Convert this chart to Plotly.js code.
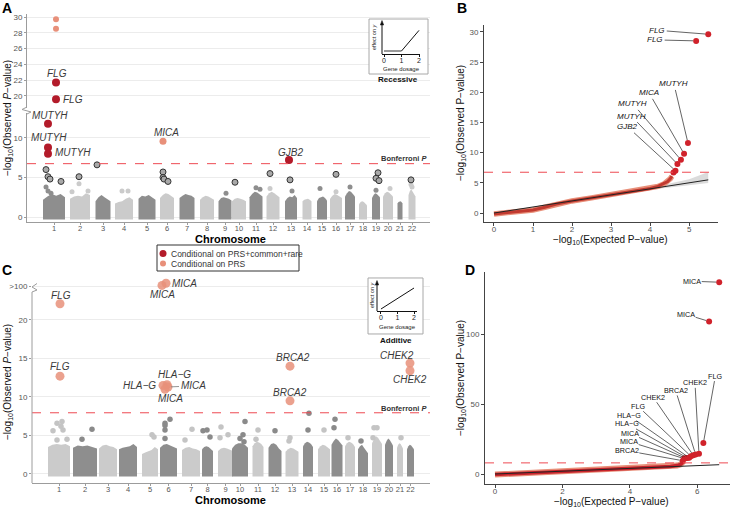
<!DOCTYPE html>
<html>
<head>
<meta charset="utf-8">
<script src="https://cdn.plot.ly/plotly-3.0.1.min.js"></script>
<style>
html,body{margin:0;padding:0;background:#ffffff;}
#chart{width:731px;height:508px;}
</style>
</head>
<body>
<div id="chart"></div>
<script>
// ======================= DATA =======================
const chromLabels = ["1","2","3","4","5","6","7","8","9","10","11","12","13","14","15","16","17","18","19","20","21","22"];

// ---- Panel A (recessive): cumulative chromosome position (plot units) ----
const chromMidA  = [54, 80, 103, 124, 147, 167, 187, 207, 225, 239, 256, 273, 291, 307, 322, 336, 350, 363, 376, 388, 400, 412];
const chromSpanA = [22, 20, 15, 18, 17, 14, 15, 14, 13, 14, 13, 13, 12, 9, 10, 12, 10, 8, 8, 10, 5, 7];
// upper envelope of the dense cloud of genes per chromosome (-log10 P)
const bulkTopA = [
  [2.2,2.6,2.9,2.7,2.9,2.5],[2.3,2.6,2.7,2.6,3.0,2.8],[2.0,2.5,2.8,2.5,2.3,2.0],[1.7,1.9,2.0,2.3,2.5,2.2],
  [2.3,2.7,2.6,2.8,2.5,2.2],[2.4,2.8,3.0,2.9,2.6,2.4],[2.4,2.7,2.9,2.8,2.7,2.4],[2.2,2.5,2.7,2.6,2.4,2.2],
  [2.0,2.4,2.5,2.4,2.3,2.1],[2.0,2.3,2.4,2.3,2.2,2.0],[2.5,2.9,3.2,3.1,2.9,2.6],[2.6,3.0,3.2,3.0,2.8,2.5],
  [2.0,2.4,2.6,2.5,2.8,2.4],[2.0,2.2,2.3,2.3,2.2,2.0],[2.0,2.4,2.5,2.6,2.4,2.1],[2.3,2.7,2.9,2.8,2.6,2.4],
  [2.6,3.0,3.3,3.2,2.9,2.6],[1.6,1.9,2.0,1.9,1.7,1.5],[2.4,2.8,3.0,2.9,2.7,2.5],[2.6,3.0,3.2,3.1,2.9,2.6],
  [1.7,1.9,2.0,2.0,1.9,1.7],[2.8,3.3,3.5,3.2,2.9,2.6]
];
const minorA_chr = [1,1,1,2,2,2,4,4,9,11,11,12,13,15,16,17,19,20,22,22];
const minorA_pos = [46,48,51,79,72,88,122,128,226,256,260,270,292,320,336,350,376,390,411,412];
const minorA_p   = [3.8,3.3,3.0,4.2,3.2,3.3,3.3,3.3,3.0,3.7,3.5,3.6,3.3,3.6,3.2,3.8,3.4,3.6,4.1,3.8];
const hitA_pos = [46,48,50,61,79,97,163,163,164,168,235,270,290,336,378,376,379,411];
const hitA_p   = [6.0,5.1,4.8,4.5,5.1,6.6,5.7,5.0,4.8,4.5,4.4,5.5,4.7,5.4,5.6,4.9,4.6,4.7];
const fullA_gene = ["FLG","FLG","MUTYH","MUTYH","MUTYH","GJB2"];
const fullA_pos  = [56,56,48,48,48,289];
const fullA_p    = [21.7,19.6,11.8,8.8,8.0,7.2];
const prsA_gene = ["","","MICA"];
const prsA_pos  = [56,56,163];
const prsA_p    = [29.7,28.5,9.6];
const bonfA = 6.75;

// ---- Panel B (QQ recessive) ----
const qqB_exp = [0,0.3,0.6,1.0,1.3,1.6,2.0,2.5,3.0,3.5,4.0,4.2,4.35,4.45,4.52,4.56];
const qqB_obs = [-0.15,0.05,0.25,0.5,0.95,1.5,2.0,2.5,3.0,3.5,4.05,4.4,4.8,5.2,5.7,6.1];
const qqB_topExp  = [4.60,4.65,4.70,4.79,4.87,4.97,5.18,5.49];
const qqB_topObs  = [6.7,7.0,8.1,8.8,9.8,11.6,28.5,29.6];
const qqB_topGene = ["","GJB2","MUTYH","MUTYH","MICA","MUTYH","FLG","FLG"];
const nullB = [0,5.49];
const ciB_exp = [0,1,2,3,4,4.5,5,5.49];
const ciB_lo  = [0,1,2,3,3.85,4.25,4.65,4.97];
const ciB_hi  = [0,1,2,3,4.2,4.85,5.6,6.8];

// ---- Panel C (additive) ----
const chromMidC  = [59, 85, 108, 128, 150, 168.5, 191, 207.5, 225.5, 240, 258, 275, 292, 308, 324, 337, 350, 363, 377, 389, 400, 410.5];
const chromSpanC = [22, 24, 18, 18, 16, 17, 18, 11, 15, 16, 11, 13, 13, 10, 12, 11, 10, 10, 10, 8, 6, 7];
const bulkTopC = [
  [3.5,3.8,3.9,3.8,3.9,3.6],[3.4,3.7,3.6,3.7,3.5,3.3],[3.3,3.7,3.8,3.6,3.5,3.2],[3.2,3.4,3.5,3.6,3.9,3.5],
  [2.6,2.8,2.9,3.1,3.5,3.2],[3.4,3.8,3.9,3.7,3.5,3.3],[3.1,3.4,3.5,3.3,3.2,3.0],[3.2,3.5,3.6,3.5,3.3,3.0],
  [3.0,3.3,3.4,3.3,3.2,3.0],[3.3,3.8,4.0,4.0,3.8,3.4],[3.6,4.0,4.2,4.1,3.9,3.5],[3.4,3.9,4.0,3.8,3.3,3.0],
  [2.9,3.2,3.4,3.3,3.1,2.9],[3.6,4.0,4.2,4.1,3.9,3.5],[3.2,3.6,3.8,3.7,3.5,3.2],[3.8,4.3,4.6,4.4,4.1,3.7],
  [3.6,4.0,4.2,4.1,3.9,3.5],[3.2,3.6,3.8,3.4,3.0,2.7],[4.0,4.5,4.9,4.7,4.3,3.9],[3.8,4.3,4.6,4.4,4.1,3.7],
  [3.4,3.8,4.0,3.9,3.6,3.3],[3.2,3.6,3.8,3.7,3.5,3.2]
];
const minorC_chr = [1,1,1,1,1,1,1,2,2,5,5,6,6,6,6,6,7,7,8,8,8,9,9,9,10,10,10,10,11,11,12,13,13,14,14,15,16,16,17,18,19,19,19,21];
const minorC_pos = [53,57,62,63,61,57,67,92,82,152,154,165,165,165,170,165,192,185,203,207,210,221,228,220,245,243,240,244,258,256,275,290,289,309,308,324,335,334,348,361,374,377,373,401];
const minorC_p   = [5.6,6.6,6.8,5.7,6.2,4.4,4.5,5.8,4.5,5.1,4.8,6.6,6.3,5.7,7.1,4.6,5.8,4.4,5.6,5.7,4.8,6.1,5.1,4.7,6.8,5.1,4.6,4.2,5.7,4.5,5.6,4.7,4.3,7.9,5.7,5.7,7.1,6.0,4.7,4.3,6.0,6.0,4.7,4.7];
const prsC_gene = ["MICA","MICA","FLG","CHEK2","BRCA2","CHEK2","FLG","HLA\u2212G","HLA\u2212G","MICA","MICA","BRCA2"];
const prsC_pos  = [166,162,60,410,290,410,60,167,163,168,165,290];
const prsC_p    = [137,109,22.1,14.4,14.0,13.4,12.7,11.6,11.5,11.3,11.0,9.5];
const capC = 100;
const bonfC = 7.95;

// ---- Panel D (QQ additive) ----
const qqD_exp = [0,0.5,1,1.5,2,3,4,4.5,5.0,5.2,5.4,5.5,5.56,5.6];
const qqD_obs = [-0.4,0.1,0.7,1.2,1.8,2.9,3.9,4.4,5.0,5.4,6.0,6.8,8.0,9.3];
const qqD_topExp = [6.65,6.35,6.18,6.05,5.95,5.88,5.81,5.76,5.70,5.65,5.61,5.57];
const nullD = [0,6.65];

// ---- Insets ----
const dosage = [0,1,2];
const effectRecessive = [0,0,1];
const dosageAdd = [0,2];
const effectAdditive = [0,1];

// ======================= STYLE / GEOMETRY =======================
const W = 731, H = 508;
const PX = x => x / W, PY = y => 1 - y / H;
const FONT = 'Liberation Sans, Arial, Helvetica, sans-serif';
const DARKRED = '#B31B2A', SALMON = '#E8907A', QQRED = '#D0222B';
const GDARK = '#8E8E8E', GLIGHT = '#CBCBCB';
const AXA = '#9c9c9c', AXB = '#444444', TICKC = '#555555';
const BONF = '#EE4A52';

function band(mid, span, tops, base) {
  const x0 = mid - span / 2, n = tops.length;
  const xs = [x0], ys = [base];
  tops.forEach((t, k) => { xs.push(x0 + span * k / (n - 1)); ys.push(t); });
  xs.push(x0 + span); ys.push(base);
  return {x: xs, y: ys};
}
const traces = [];

// ---------- Panel A ----------
chromMidA.forEach((m, i) => {
  const b = band(m, chromSpanA[i], bulkTopA[i], -0.32);
  traces.push({type:'scatter', mode:'lines', x:b.x, y:b.y, xaxis:'x', yaxis:'y', fill:'toself',
    fillcolor: i % 2 === 0 ? GDARK : GLIGHT, line:{width:0, color:i % 2 === 0 ? GDARK : GLIGHT}, hoverinfo:'skip'});
});
traces.push({type:'scatter', mode:'markers', x:minorA_pos, y:minorA_p, xaxis:'x', yaxis:'y',
  marker:{size:5, color:minorA_chr.map(c => c % 2 === 1 ? GDARK : GLIGHT)}, hoverinfo:'skip'});
traces.push({type:'scatter', mode:'markers', x:hitA_pos, y:hitA_p, xaxis:'x', yaxis:'y',
  marker:{size:6, color:'#a9a9a9', line:{color:'#333', width:1}}, hoverinfo:'skip'});
function splitAxis(pos, p) {
  const lo = {x:[], y:[]}, hi = {x:[], y:[]};
  p.forEach((v, i) => { const t = v > 15 ? hi : lo; t.x.push(pos[i]); t.y.push(v); });
  return {lo, hi};
}
const sPrsA = splitAxis(prsA_pos, prsA_p), sFullA = splitAxis(fullA_pos, fullA_p);
traces.push({type:'scatter', mode:'markers', x:sPrsA.hi.x, y:sPrsA.hi.y, xaxis:'x', yaxis:'y2', marker:{size:6, color:SALMON}});
traces.push({type:'scatter', mode:'markers', x:sPrsA.lo.x, y:sPrsA.lo.y, xaxis:'x', yaxis:'y', marker:{size:7, color:SALMON}});
traces.push({type:'scatter', mode:'markers', x:sFullA.hi.x, y:sFullA.hi.y, xaxis:'x', yaxis:'y2', marker:{size:8, color:DARKRED}});
traces.push({type:'scatter', mode:'markers', x:sFullA.lo.x, y:sFullA.lo.y, xaxis:'x', yaxis:'y', marker:{size:8, color:DARKRED}});

// ---------- Panel B ----------
traces.push({type:'scatter', mode:'lines', x:ciB_exp, y:ciB_lo, xaxis:'x3', yaxis:'y3', line:{width:0, color:'#ccc'}, hoverinfo:'skip'});
traces.push({type:'scatter', mode:'lines', x:ciB_exp, y:ciB_hi, xaxis:'x3', yaxis:'y3', fill:'tonexty', fillcolor:'rgba(190,190,190,0.55)', line:{width:0, color:'#ccc'}, hoverinfo:'skip'});
traces.push({type:'scatter', mode:'lines', x:qqB_exp, y:qqB_obs, xaxis:'x3', yaxis:'y3', line:{width:5.5, color:SALMON}});
traces.push({type:'scatter', mode:'lines', x:qqB_exp, y:qqB_obs, xaxis:'x3', yaxis:'y3', line:{width:3, color:'#C23A30'}});
traces.push({type:'scatter', mode:'lines', x:nullB, y:nullB, xaxis:'x3', yaxis:'y3', line:{width:1, color:'#222'}});
traces.push({type:'scatter', mode:'markers', x:qqB_topExp, y:qqB_topObs, xaxis:'x3', yaxis:'y3', marker:{size:6, color:QQRED}});

// ---------- Panel C ----------
const capShow = v => v > capC ? 24.4 + (v - capC) / 100 : v;
chromMidC.forEach((m, i) => {
  const b = band(m, chromSpanC[i], bulkTopC[i], -0.33);
  traces.push({type:'scatter', mode:'lines', x:b.x, y:b.y, xaxis:'x4', yaxis:'y4', fill:'toself',
    fillcolor: i % 2 === 0 ? GLIGHT : GDARK, line:{width:0, color:i % 2 === 0 ? GLIGHT : GDARK}, hoverinfo:'skip'});
});
traces.push({type:'scatter', mode:'markers', x:minorC_pos, y:minorC_p, xaxis:'x4', yaxis:'y4',
  marker:{size:5.5, color:minorC_chr.map(c => c % 2 === 1 ? '#c4c4c4' : '#8a8a8a')}, hoverinfo:'skip'});
traces.push({type:'scatter', mode:'markers', x:prsC_pos, y:prsC_p.map(capShow), xaxis:'x4', yaxis:'y4',
  marker:{size:9, color:SALMON, opacity:0.85}});

// ---------- Panel D ----------
traces.push({type:'scatter', mode:'lines', x:qqD_exp, y:qqD_obs, xaxis:'x5', yaxis:'y5', line:{width:6, color:SALMON}});
traces.push({type:'scatter', mode:'lines', x:qqD_exp, y:qqD_obs, xaxis:'x5', yaxis:'y5', line:{width:3.5, color:'#C8232C'}});
traces.push({type:'scatter', mode:'lines', x:nullD, y:nullD, xaxis:'x5', yaxis:'y5', line:{width:1, color:'#222'}});
traces.push({type:'scatter', mode:'markers', x:qqD_topExp, y:prsC_p, xaxis:'x5', yaxis:'y5', marker:{size:6, color:QQRED}});

// ---------- Insets ----------
traces.push({type:'scatter', mode:'lines', x:dosage.slice(0,2), y:effectRecessive.slice(0,2), xaxis:'x6', yaxis:'y6', line:{width:2, color:'#999'}});
traces.push({type:'scatter', mode:'lines', x:dosage.slice(1), y:effectRecessive.slice(1), xaxis:'x6', yaxis:'y6', line:{width:1, color:'#111'}});
traces.push({type:'scatter', mode:'lines', x:dosageAdd, y:effectAdditive, xaxis:'x7', yaxis:'y7', line:{width:1, color:'#111'}});

// ======================= AXES =======================
const baseTick = {tickfont:{family:FONT, size:8, color:TICKC}, zeroline:false, fixedrange:true, tickangle:0};
function axA(extra) { return Object.assign({}, baseTick, {showline:true, linecolor:AXA, linewidth:1, ticks:'outside', ticklen:2, tickcolor:AXA, showgrid:false}, extra); }
function axB(extra) { return Object.assign({}, baseTick, {showline:true, linecolor:AXB, linewidth:1, ticks:'outside', ticklen:3, tickcolor:AXB, showgrid:false}, extra); }
function axIn(extra) { return Object.assign({}, {zeroline:false, fixedrange:true, showgrid:false, tickangle:0}, extra); }

const layout = {
  width:W, height:H, margin:{l:0, r:0, t:0, b:0}, showlegend:false,
  paper_bgcolor:'#ffffff', plot_bgcolor:'rgba(0,0,0,0)',
  font:{family:FONT, size:8, color:TICKC},
  xaxis:  axA({domain:[PX(27), PX(430)], range:[27, 430], anchor:'y', tickmode:'array', tickvals:chromMidA, ticktext:chromLabels, ticklabelstandoff:-3, tickfont:{family:FONT, size:7.5, color:TICKC}}),
  yaxis:  axA({domain:[PY(222), PY(113)], range:[-0.63, 13.16], anchor:'x', tickvals:[0,5,10], showgrid:true, gridcolor:'#ececec'}),
  yaxis2: axA({domain:[PY(108), PY(14)], range:[18.48, 30.38], anchor:'x', tickvals:[20,22,24,26,28,30], showgrid:true, gridcolor:'#ececec'}),
  xaxis3: axB({domain:[PX(484), PX(718)], range:[-0.256, 5.74], anchor:'y3', tickvals:[0,1,2,3,4,5], ticklabelstandoff:-4}),
  yaxis3: axB({domain:[PY(222), PY(25)], range:[-1.49, 31.13], anchor:'x3', tickvals:[0,5,10,15,20,25,30]}),
  xaxis4: axA({domain:[PX(32), PX(430)], range:[32, 430], anchor:'y4', tickmode:'array', tickvals:chromMidC, ticktext:chromLabels, ticklabelstandoff:-3, tickfont:{family:FONT, size:7.5, color:TICKC}}),
  yaxis4: axA({domain:[PY(483), PY(277)], range:[-1.17, 25.58], anchor:'x4', showline:false, tickvals:[0,5,10,15,20,24.4], ticktext:['0','5','10','15','20','>100'], showgrid:true, gridcolor:'#ececec'}),
  xaxis5: axB({domain:[PX(485), PX(730)], range:[-0.297, 6.97], anchor:'y5', tickvals:[0,2,4,6], ticklabelstandoff:-4}),
  yaxis5: axB({domain:[PY(484), PY(272)], range:[-7.14, 144.3], anchor:'x5', tickvals:[0,50,100]}),
  xaxis6: axIn({domain:[PX(382), PX(420)], range:[-0.114, 2.057], anchor:'y6', showline:true, linecolor:'#111', linewidth:1, ticks:'outside', ticklen:2, tickcolor:'#111', tickvals:[0,1,2], ticklabelstandoff:-2, tickfont:{family:FONT, size:7, color:'#222'}}),
  yaxis6: axIn({domain:[PY(54), PY(21)], range:[-0.146, 1.456], anchor:'x6', showticklabels:false, showline:false}),
  xaxis7: axIn({domain:[PX(377), PX(417)], range:[-0.24, 2.18], anchor:'y7', showline:true, linecolor:'#111', linewidth:1, ticks:'outside', ticklen:2, tickcolor:'#111', tickvals:[0,1,2], ticklabelstandoff:-2, tickfont:{family:FONT, size:7, color:'#222'}}),
  yaxis7: axIn({domain:[PY(311), PY(282)], range:[-0.095, 1.286], anchor:'x7', showticklabels:false, showline:false}),
  shapes:[], annotations:[]
};

// ======================= SHAPES =======================
const S = layout.shapes;
const pathPx = pts => pts.map((p, i) => (i ? 'L' : 'M') + PX(p[0]).toFixed(5) + ',' + PY(p[1]).toFixed(5)).join(' ');
// inset boxes (cover the grid, below traces of inset)
S.push({type:'rect', xref:'x', yref:'y2', x0:369, x1:428, y0:20 + (96 - 74) / 7.9, y1:20 + (96 - 19) / 7.9, fillcolor:'#fff', line:{color:'#a8a8a8', width:1}, layer:'between'});
S.push({type:'rect', xref:'x4', yref:'y4', x0:368, x1:423, y0:(474 - 334) / 7.7, y1:(474 - 278) / 7.7, fillcolor:'#fff', line:{color:'#a8a8a8', width:1}, layer:'between'});
// Bonferroni lines
S.push({type:'line', xref:'x domain', yref:'y', x0:0, x1:1, y0:bonfA, y1:bonfA, line:{color:BONF, width:1, dash:'dash'}});
S.push({type:'line', xref:'x3 domain', yref:'y3', x0:0, x1:1, y0:bonfA, y1:bonfA, line:{color:BONF, width:1, dash:'dash'}});
S.push({type:'line', xref:'x4 domain', yref:'y4', x0:0, x1:1, y0:bonfC, y1:bonfC, line:{color:BONF, width:1, dash:'dash'}});
S.push({type:'line', xref:'x5 domain', yref:'y5', x0:0, x1:1, y0:bonfC, y1:bonfC, line:{color:BONF, width:1, dash:'dash'}});
// axis breaks
S.push({type:'path', xref:'paper', yref:'paper', path:pathPx([[27,107],[22,109.5],[31,112],[27,114]]), line:{color:AXA, width:1}});
S.push({type:'line', xref:'paper', yref:'paper', x0:PX(32), x1:PX(32), y0:PY(292), y1:PY(483), line:{color:AXA, width:1}});
S.push({type:'path', xref:'paper', yref:'paper', path:pathPx([[37,283.5],[32,287],[37,290],[32,292]]), line:{color:AXA, width:1}});
// inset y arrows
S.push({type:'line', xref:'paper', yref:'paper', x0:PX(382), x1:PX(382), y0:PY(54), y1:PY(23), line:{color:'#111', width:1}});
S.push({type:'path', xref:'paper', yref:'paper', path:pathPx([[380.3,25],[382,20.5],[383.7,25]]) + ' Z', fillcolor:'#111', line:{color:'#111', width:0.5}});
S.push({type:'line', xref:'paper', yref:'paper', x0:PX(377), x1:PX(377), y0:PY(311), y1:PY(283), line:{color:'#111', width:1}});
S.push({type:'path', xref:'paper', yref:'paper', path:pathPx([[375.3,285],[377,280.5],[378.7,285]]) + ' Z', fillcolor:'#111', line:{color:'#111', width:0.5}});
// legend box + keys
S.push({type:'rect', xref:'paper', yref:'paper', x0:PX(157), x1:PX(299), y0:PY(271), y1:PY(245), line:{color:'#333', width:1}, fillcolor:'rgba(255,255,255,0)'});
S.push({type:'circle', xref:'paper', yref:'paper', x0:PX(159.5), x1:PX(166.5), y0:PY(257), y1:PY(250), fillcolor:DARKRED, line:{width:0}});
S.push({type:'circle', xref:'paper', yref:'paper', x0:PX(160), x1:PX(166), y0:PY(266.5), y1:PY(260.5), fillcolor:SALMON, line:{width:0}});

// ======================= ANNOTATIONS =======================
const A = layout.annotations;
function pt(x, y, text, o) {
  A.push(Object.assign({xref:'paper', yref:'paper', x:PX(x), y:PY(y), text:text, showarrow:false,
    xanchor:'center', yanchor:'middle', font:{family:FONT, size:10, color:'#111'}}, o || {}));
}
// panel letters
pt(7, 8, '<b>A</b>', {font:{family:FONT, size:14, color:'#000'}});
pt(462, 8, '<b>B</b>', {font:{family:FONT, size:14, color:'#000'}});
pt(7, 270, '<b>C</b>', {font:{family:FONT, size:14, color:'#000'}});
pt(470, 270, '<b>D</b>', {font:{family:FONT, size:14, color:'#000'}});
// axis titles
const yTitleI = '\u2212log<sub>10</sub>(Observed <i>P</i>\u2212value)';
const yTitle = '\u2212log<sub>10</sub>(Observed P\u2212value)';
const xTitleQ = '\u2212log<sub>10</sub>(Expected P\u2212value)';
pt(230, 239, '<b>Chromosome</b>', {font:{family:FONT, size:11, color:'#000'}});
pt(230, 500, '<b>Chromosome</b>', {font:{family:FONT, size:11, color:'#000'}});
pt(8, 118, yTitleI, {textangle:-90, font:{family:FONT, size:10, color:'#111'}});
pt(8, 382, yTitleI, {textangle:-90, font:{family:FONT, size:10, color:'#111'}});
pt(610, 240, xTitleQ, {font:{family:FONT, size:10, color:'#111'}});
pt(461, 123, yTitle, {textangle:-90, font:{family:FONT, size:10, color:'#111'}});
pt(611, 502, xTitleQ, {font:{family:FONT, size:10, color:'#111'}});
pt(461, 378, yTitle, {textangle:-90, font:{family:FONT, size:10, color:'#111'}});
// Bonferroni
pt(429, 158, '<b>Bonferroni <i>P</i></b>', {xanchor:'right', font:{family:FONT, size:7.5, color:'#333'}});
pt(429, 408, '<b>Bonferroni <i>P</i></b>', {xanchor:'right', font:{family:FONT, size:7.5, color:'#333'}});
// legend text
pt(169, 253.5, 'Conditional on PRS+common+rare', {xanchor:'left', font:{family:FONT, size:8.5, color:'#333'}});
pt(169, 263.5, 'Conditional on PRS', {xanchor:'left', font:{family:FONT, size:8.5, color:'#333'}});
// insets
pt(401, 69, 'Gene dosage', {font:{family:FONT, size:6, color:'#222'}});
pt(374, 37, 'effect on <i>y</i>', {textangle:-90, font:{family:FONT, size:5.5, color:'#222'}});
pt(398, 80, '<b>Recessive</b>', {font:{family:FONT, size:8, color:'#111'}});
pt(397, 327, 'Gene dosage', {font:{family:FONT, size:6, color:'#222'}});
pt(372, 295, 'effect on <i>y</i>', {textangle:-90, font:{family:FONT, size:5.5, color:'#222'}});
pt(396, 340, '<b>Additive</b>', {font:{family:FONT, size:8, color:'#111'}});

// gene labels, panel A
const geneFontA = {family:FONT, size:10, color:'#3a3a3a'};
function geneLab(xref, yref, x, y, g, o) {
  A.push(Object.assign({xref:xref, yref:yref, x:x, y:y, text:'<i>' + g + '</i>', showarrow:false,
    xanchor:'center', yanchor:'middle', font:geneFontA}, o));
}
const offFullA = [{xshift:1, yshift:9}, {xshift:5, yshift:0, xanchor:'left'}, {xshift:2, yshift:8}, {xshift:1, yshift:10}, {xshift:5, yshift:1, xanchor:'left'}, {xshift:1, yshift:8}];
fullA_gene.forEach((g, i) => geneLab('x', fullA_p[i] > 15 ? 'y2' : 'y', fullA_pos[i], fullA_p[i], g, offFullA[i]));
prsA_gene.forEach((g, i) => { if (g) geneLab('x', prsA_p[i] > 15 ? 'y2' : 'y', prsA_pos[i], prsA_p[i], g, {xshift:3, yshift:9}); });

// gene labels, panel C
const offC = [{xshift:4, xanchor:'left'}, {yshift:-9}, {xshift:1, yshift:8}, {xshift:-13, yshift:8}, {xshift:3, yshift:9}, {yshift:-9},
  {yshift:10}, {xshift:7, yshift:10}, {xshift:-5, xanchor:'right'}, null, {xshift:5, yshift:-9}, {yshift:8}];
prsC_gene.forEach((g, i) => {
  if (offC[i]) geneLab('x4', 'y4', prsC_pos[i], capShow(prsC_p[i]), g, offC[i]);
  else A.push({xref:'x4', yref:'y4', x:prsC_pos[i], y:capShow(prsC_p[i]), text:'<i>' + g + '</i>', showarrow:true, arrowhead:0,
    arrowwidth:0.8, arrowcolor:'#777', ax:25, ay:-1, standoff:3, font:geneFontA});
});

// QQ labels, panel B
const offB = [null, [-48,-44], [-46,-48], [-48,-56], [-35,-61], [-14,-59], [-41,-1], [-51,-4]];
qqB_topGene.forEach((g, i) => {
  if (!g) return;
  A.push({xref:'x3', yref:'y3', x:qqB_topExp[i], y:qqB_topObs[i], text:'<i>' + g + '</i>', showarrow:true, arrowhead:0,
    arrowwidth:0.7, arrowcolor:'#222', ax:offB[i][0], ay:offB[i][1], standoff:3, font:{family:FONT, size:8, color:'#111'}});
});
// QQ labels, panel D
const offD = [[-27,-1], [-23,-7], [12,-67], [-4,-71], [-20,-64], [-40,-58], [-53,-50], [-60,-42], [-60,-34], [-56,-25], [-55,-17], [-56,-10]];
prsC_gene.forEach((g, i) => {
  A.push({xref:'x5', yref:'y5', x:qqD_topExp[i], y:prsC_p[i], text:g, showarrow:true, arrowhead:0,
    arrowwidth:0.7, arrowcolor:'#222', ax:offD[i][0], ay:offD[i][1], standoff:3, borderpad:0, font:{family:FONT, size:7.2, color:'#111'}});
});

Plotly.newPlot('chart', traces, layout, {displayModeBar:false, staticPlot:true});
</script>
</body>
</html>
